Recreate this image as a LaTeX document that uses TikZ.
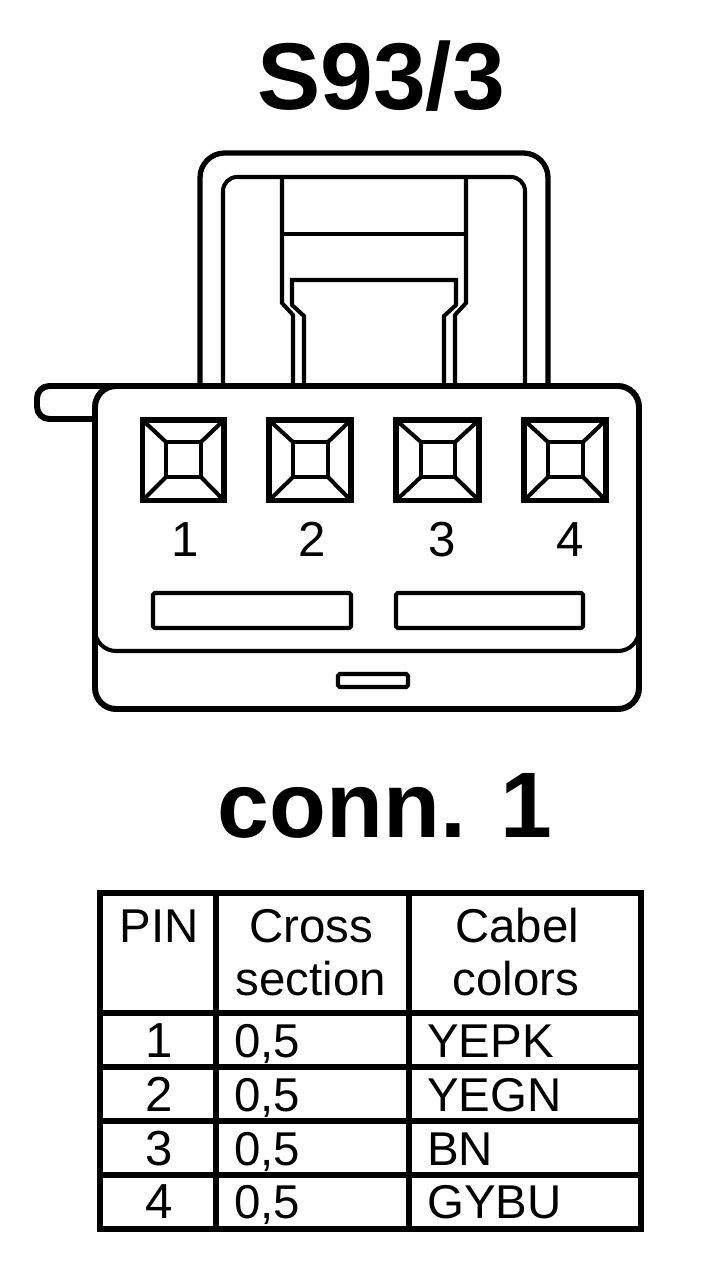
\documentclass[tikz,border=0pt]{standalone}
\usepackage{fontspec}
\setmainfont{Liberation Sans}
\tikzset{
  bodyline/.style={draw=black,line width=3.4pt,rounded corners=12pt},
  hoodline/.style={draw=black,line width=3pt},
  thinline/.style={draw=black,line width=2.3pt,line join=miter},
  gridline/.style={draw=black,line width=3pt},
  titletext/.style={font=\fontsize{54}{54}\selectfont\bfseries,anchor=base,inner sep=0pt},
  bigtext/.style={font=\fontsize{53}{53}\selectfont\bfseries,anchor=base,inner sep=0pt},
  pintext/.style={font=\fontsize{28}{28}\selectfont,anchor=base,inner sep=0pt},
  headtext/.style={font=\fontsize{27}{27}\selectfont,anchor=base,inner sep=0pt},
  celltext/.style={font=\fontsize{27}{27}\selectfont,anchor=base west,inner sep=0pt}
}
\begin{document}
\begin{tikzpicture}[x=0.02cm,y=-0.02cm]
\useasboundingbox (0,0) rectangle (704,1272);
\node[titletext] (title) at (381,109) {S93/3};

% hood
\draw[hoodline,rounded corners=14pt] (200,386) -- (200,153) -- (548,153) -- (548,386);
\draw[thinline,rounded corners=8pt] (223,386) -- (223,177) -- (525,177) -- (525,386);
\draw[thinline] (282,177) -- (282,303) -- (293,315) -- (293,386);
\draw[thinline] (466,177) -- (466,303) -- (455,315) -- (455,386);
\draw[thinline] (282,234) -- (466,234);
\draw[thinline] (304,386) -- (304,316) -- (292,305) -- (292,280) -- (456,280) -- (456,305) -- (444,316) -- (444,386);

% housing
\draw[bodyline,rounded corners=7pt] (95,419) -- (37,419) -- (37,386) -- (130,386);
\draw[bodyline] (95,386) rectangle (639,709);
\draw[thinline,rounded corners=12pt] (95,625) -- (95,651) -- (639,651) -- (639,625);

% pin 1
\draw[hoodline] (142.5,420) rectangle (224,500.5);
\draw[thinline] (166,442) rectangle (201,477);
\draw[thinline] (142.5,420) -- (166,442);
\draw[thinline] (224,420) -- (201,442);
\draw[thinline] (142.5,500.5) -- (166,477);
\draw[thinline] (224,500.5) -- (201,477);
% pin 2
\draw[hoodline] (269,420) rectangle (351,500.5);
\draw[thinline] (293,442) rectangle (328,477);
\draw[thinline] (269,420) -- (293,442);
\draw[thinline] (351,420) -- (328,442);
\draw[thinline] (269,500.5) -- (293,477);
\draw[thinline] (351,500.5) -- (328,477);
% pin 3
\draw[hoodline] (396,420) rectangle (479,500.5);
\draw[thinline] (421,442) rectangle (455,477);
\draw[thinline] (396,420) -- (421,442);
\draw[thinline] (479,420) -- (455,442);
\draw[thinline] (396,500.5) -- (421,477);
\draw[thinline] (479,500.5) -- (455,477);
% pin 4
\draw[hoodline] (524,420) rectangle (606,500.5);
\draw[thinline] (548,442) rectangle (583,477);
\draw[thinline] (524,420) -- (548,442);
\draw[thinline] (606,420) -- (583,442);
\draw[thinline] (524,500.5) -- (548,477);
\draw[thinline] (606,500.5) -- (583,477);

\node[pintext] (pinA) at (185,556) {1};
\node[pintext] (pinB) at (312,556) {2};
\node[pintext] (pinC) at (442,556) {3};
\node[pintext] (pinD) at (570,556) {4};

% slots
\draw[thinline,rounded corners=1pt] (153,593) rectangle (351,628);
\draw[thinline,rounded corners=1pt] (396,593) rectangle (583,628);
\draw[thinline,rounded corners=1pt] (338,674) rectangle (408,687);

\node[bigtext] (connlabel) at (385,837) {conn. 1};

% table
\draw[gridline] (100,893) rectangle (641,1229);
\draw[gridline] (216,893) -- (216,1229);
\draw[gridline] (409,893) -- (409,1229);
\draw[gridline] (100,1013) -- (641,1013);
\draw[gridline] (100,1067) -- (641,1067);
\draw[gridline] (100,1121) -- (641,1121);
\draw[gridline] (100,1175) -- (641,1175);

\node[headtext] (headpin) at (159,942) {PIN};
\node[headtext] (headcrossA) at (311,942) {Cross};
\node[headtext] (headcrossB) at (311,995) {section};
\node[headtext] (headcabelA) at (517,942) {Cabel};
\node[headtext] (headcabelB) at (516,995) {colors};

\node[pintext] (rowA) at (159,1057) {1};
\node[celltext] (crossA) at (234,1057) {0,5};
\node[celltext] (colorA) at (427,1057) {YEPK};
\node[pintext] (rowB) at (159,1111) {2};
\node[celltext] (crossB) at (234,1111) {0,5};
\node[celltext] (colorB) at (427,1111) {YEGN};
\node[pintext] (rowC) at (159,1165) {3};
\node[celltext] (crossC) at (234,1165) {0,5};
\node[celltext] (colorC) at (427,1165) {BN};
\node[pintext] (rowD) at (159,1218) {4};
\node[celltext] (crossD) at (234,1218) {0,5};
\node[celltext] (colorD) at (427,1218) {GYBU};

\end{tikzpicture}
\end{document}
